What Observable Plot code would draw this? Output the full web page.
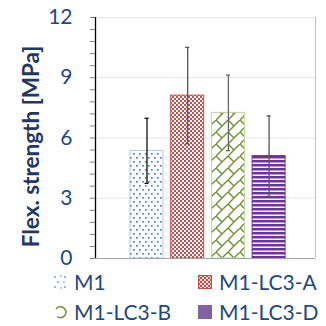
<!DOCTYPE html>
<html>
<head>
<meta charset="utf-8">
<script src="https://cdn.jsdelivr.net/npm/d3@7"></script>
<script src="https://cdn.jsdelivr.net/npm/@observablehq/plot@0.6"></script>
<style>
  html, body { margin: 0; padding: 0; background: #fff; }
  body { width: 326px; height: 326px; overflow: hidden; font-family: Lato, "Open Sans", sans-serif; position: relative; }
  #legend { position: relative; height: 58px; }
  .item { position: absolute; display: flex; align-items: center; color: #1f497d; font-size: 21px; line-height: 1; }
  .item svg { margin-right: 7px; }
</style>
</head>
<body>
<div id="chart"></div>
<div id="legend"></div>
<script>
const series = ["M1", "M1-LC3-A", "M1-LC3-B", "M1-LC3-D"];
const means = [5.36, 8.11, 7.25, 5.10];
const errors = [1.62, 2.40, 1.88, 2.00];
const yTicks = [0, 3, 6, 9, 12];
const minorTicks = [0, 0.6, 1.2, 1.8, 2.4, 3, 3.6, 4.2, 4.8, 5.4, 6, 6.6, 7.2, 7.8, 8.4, 9, 9.6, 10.2, 10.8, 11.4, 12];

const borders = ["#b8cce4", "#c0504d", "#c3d69b", "#7030a0"];
const errColors = ["#111", "#555", "#666", "#555"];
const navy = "#1f497d";

const data = series.map((s, i) => ({ s, i, m: means[i], e: errors[i] }));

function defsMark() {
  const defs = d3.create("svg:defs");
  const p0 = defs.append("pattern").attr("id", "pat0").attr("patternUnits", "userSpaceOnUse").attr("width", 6).attr("height", 8);
  p0.append("rect").attr("width", 6).attr("height", 8).attr("fill", "#fff");
  p0.append("rect").attr("x", 1).attr("y", 1).attr("width", 1.7).attr("height", 1.7).attr("fill", "#4f81bd");
  p0.append("rect").attr("x", 4).attr("y", 5).attr("width", 1.7).attr("height", 1.7).attr("fill", "#4f81bd");
  const p1 = defs.append("pattern").attr("id", "pat1").attr("patternUnits", "userSpaceOnUse").attr("width", 4).attr("height", 4);
  p1.append("rect").attr("width", 4).attr("height", 4).attr("fill", "#fff");
  p1.append("rect").attr("width", 2).attr("height", 2).attr("fill", "#c0504d");
  p1.append("rect").attr("x", 2).attr("y", 2).attr("width", 2).attr("height", 2).attr("fill", "#c0504d");
  const p2 = defs.append("pattern").attr("id", "pat2").attr("patternUnits", "userSpaceOnUse").attr("width", 12).attr("height", 12);
  p2.append("rect").attr("width", 12).attr("height", 12).attr("fill", "#fff");
  p2.append("path").attr("d", "M-1,13L13,-1M0,0L6,6").attr("stroke", "#77933c").attr("stroke-width", 1.5).attr("fill", "none");
  const p3 = defs.append("pattern").attr("id", "pat3").attr("patternUnits", "userSpaceOnUse").attr("width", 4).attr("height", 4);
  p3.append("rect").attr("width", 4).attr("height", 4).attr("fill", "#fff");
  p3.append("rect").attr("width", 4).attr("height", 2.5).attr("fill", "#7030a0");
  return defs.node();
}

const xMin = -0.765, xMax = 4.64;

const chart = Plot.plot({
  width: 326,
  height: 268,
  marginLeft: 95,
  marginRight: 11,
  marginTop: 17,
  marginBottom: 10,
  style: { fontFamily: "Lato, 'Open Sans', sans-serif", background: "#fff", overflow: "visible" },
  x: { domain: [xMin, xMax], axis: null },
  y: { domain: [0, 12], axis: null },
  marks: [
    defsMark,
    Plot.gridY([3, 6, 9, 12], { stroke: "#e6e6e6", strokeOpacity: 1 }),
    ...data.map(d => Plot.rect([d], {
      x1: r => r.i, x2: r => r.i + 1, y1: 0, y2: "m",
      insetLeft: 3.85, insetRight: 3.85,
      fill: `url(#pat${d.i})`, stroke: borders[d.i], strokeWidth: 1
    })),
    Plot.ruleY([0], { stroke: "#a6a6a6", strokeWidth: 1 }),
    Plot.ruleX([xMax], { stroke: "#bfbfbf", strokeWidth: 1 }),
    Plot.ruleX([xMin], { stroke: "#000", strokeWidth: 1.3 }),
    Plot.axisY({ ticks: minorTicks, tickSize: 5, tickFormat: () => "", stroke: "#7f7f7f", label: null }),
    Plot.axisY({ ticks: yTicks, tickSize: 0, tickPadding: 23, fontSize: 21, fill: navy, label: null }),
    Plot.ruleX(data, { x: d => d.i + 0.5, y1: d => d.m - d.e, y2: d => d.m + d.e, stroke: d => errColors[d.i], strokeWidth: 1.3 }),
    Plot.ruleY(data, { y: d => d.m + d.e, x1: d => d.i + 0.45, x2: d => d.i + 0.55, stroke: d => errColors[d.i], strokeWidth: 1.3 }),
    Plot.ruleY(data, { y: d => d.m - d.e, x1: d => d.i + 0.45, x2: d => d.i + 0.55, stroke: d => errColors[d.i], strokeWidth: 1.3 }),
    Plot.text(["Flex. strength [MPa]"], {
      frameAnchor: "left", rotate: -90, dx: -64, dy: 8.5,
      fontSize: 22.5, fontWeight: "bold", fill: "#1f3864", lineAnchor: "middle", textAnchor: "middle"
    })
  ]
});
document.getElementById("chart").appendChild(chart);

const legend = document.getElementById("legend");
const swatch = [
  `<svg width="14" height="14"><rect x="1" y="1" width="2" height="2" fill="#9bb7d9"/><rect x="7" y="0" width="2" height="2" fill="#b8cce4"/><rect x="11" y="1" width="2" height="2" fill="#9bb7d9"/><rect x="4" y="6" width="2" height="2" fill="#9bb7d9"/><rect x="10" y="6" width="2" height="2" fill="#b8cce4"/><rect x="1" y="11" width="2" height="2" fill="#9bb7d9"/><rect x="7" y="12" width="2" height="2" fill="#b8cce4"/><rect x="11" y="11" width="2" height="2" fill="#9bb7d9"/></svg>`,
  `<svg width="14" height="14"><defs><pattern id="lp1" patternUnits="userSpaceOnUse" width="4" height="4"><rect width="4" height="4" fill="#f2dcdb"/><rect width="2" height="2" fill="#c0504d"/><rect x="2" y="2" width="2" height="2" fill="#c0504d"/></pattern></defs><rect x="0.5" y="0.5" width="13" height="13" fill="url(#lp1)" stroke="#c0504d"/></svg>`,
  `<svg width="14" height="14"><path d="M3,4 A5.5,5.5 0 1 1 4,11.5" fill="none" stroke="#77933c" stroke-width="1.6"/></svg>`,
  `<svg width="14" height="14"><rect width="14" height="14" fill="#8064a2"/></svg>`
];
const pos = [[53, 3], [198, 3], [53, 33], [198, 33]];
series.forEach((s, i) => {
  const el = document.createElement("div");
  el.className = "item";
  el.style.left = pos[i][0] + "px";
  el.style.top = pos[i][1] + "px";
  el.innerHTML = swatch[i] + `<span>${s}</span>`;
  legend.appendChild(el);
});
</script>
</body>
</html>
